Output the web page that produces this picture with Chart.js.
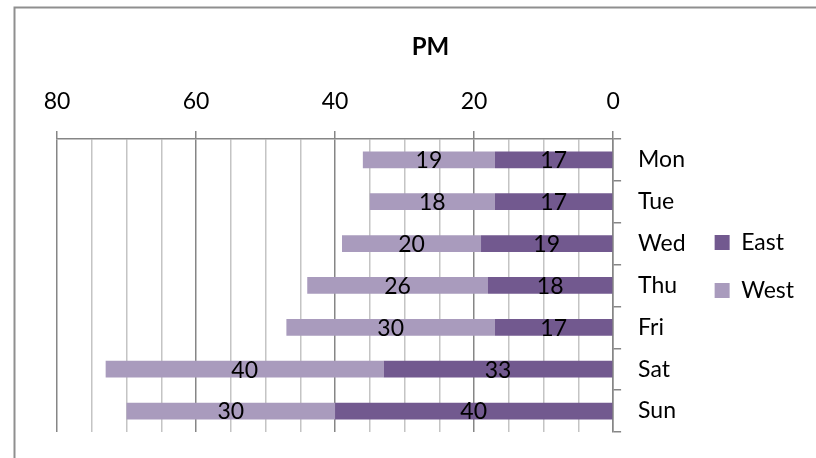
<!DOCTYPE html>
<html>
<head>
<meta charset="utf-8">
<script src="https://cdn.jsdelivr.net/npm/chart.js@4/dist/chart.umd.min.js"></script>
<style>
  html, body { margin: 0; padding: 0; background: #ffffff; }
  #wrap { width: 816px; height: 458px; position: relative; }
</style>
</head>
<body>
<div id="wrap"><canvas id="c" width="816" height="458"></canvas></div>
<script>
const categories = ['Mon', 'Tue', 'Wed', 'Thu', 'Fri', 'Sat', 'Sun'];
const eastValues = [17, 17, 19, 18, 17, 33, 40];
const westValues = [19, 18, 20, 26, 30, 40, 30];
const xTickLabels = [0, 20, 40, 60, 80];
const chartTitle = 'PM';

const FONT = 'Lato, "Open Sans", sans-serif';
const AXIS_GRAY = '#868686';
const MINOR_GRAY = '#c4c4c4';

const frame = {
  id: 'frame',
  beforeDraw(chart) {
    const ctx = chart.ctx;
    ctx.save();
    ctx.fillStyle = '#ffffff';
    ctx.fillRect(0, 0, chart.width, chart.height);
    ctx.strokeStyle = '#8f8f8f';
    ctx.lineWidth = 2;
    ctx.strokeRect(14.5, 7.5, chart.width + 20, chart.height + 20);
    ctx.restore();
  }
};

const valueLabels = {
  id: 'valueLabels',
  afterDatasetsDraw(chart) {
    const ctx = chart.ctx;
    ctx.save();
    ctx.font = '23px ' + FONT;
    ctx.fillStyle = '#000000';
    ctx.textAlign = 'center';
    ctx.textBaseline = 'middle';
    chart.data.datasets.forEach((ds, di) => {
      const meta = chart.getDatasetMeta(di);
      meta.data.forEach((el, i) => {
        const p = el.getProps(['x', 'y', 'base'], true);
        ctx.fillText(String(ds.data[i]), (p.x + p.base) / 2, p.y + 1);
      });
    });
    ctx.restore();
  }
};

new Chart(document.getElementById('c'), {
  type: 'bar',
  data: {
    labels: categories,
    datasets: [
      { label: 'East', data: eastValues, backgroundColor: '#72598F', borderWidth: 0 },
      { label: 'West', data: westValues, backgroundColor: '#A99BBD', borderWidth: 0 }
    ]
  },
  options: {
    indexAxis: 'y',
    responsive: false,
    animation: false,
    devicePixelRatio: 1,
    categoryPercentage: 1,
    barPercentage: 0.4,
    layout: { padding: { left: 57, right: 12, top: 0, bottom: 26 } },
    plugins: {
      tooltip: { enabled: false },
      title: {
        display: true,
        text: chartTitle,
        color: '#000000',
        font: { family: FONT, size: 24, weight: 'bold' },
        padding: { top: 33, bottom: 10.5 }
      },
      legend: {
        display: true,
        position: 'right',
        align: 'start',
        fullSize: false,
        title: { display: true, text: '', font: { size: 10 }, padding: { top: 55, bottom: 0 } },
        labels: {
          boxWidth: 15,
          boxHeight: 15,
          padding: 25,
          color: '#000000',
          font: { family: FONT, size: 23 }
        }
      }
    },
    scales: {
      x: {
        position: 'top',
        reverse: true,
        stacked: true,
        min: 0,
        max: 80,
        ticks: {
          stepSize: 5,
          autoSkip: false,
          maxRotation: 0,
          padding: 15.5,
          color: '#000000',
          font: { family: FONT, size: 23 },
          callback: (v) => (xTickLabels.includes(v) ? String(v) : '')
        },
        grid: {
          color: (c) => (c.tick && c.tick.value % 20 === 0 ? AXIS_GRAY : MINOR_GRAY),
          tickColor: (c) => (c.tick && c.tick.value % 20 === 0 ? AXIS_GRAY : 'rgba(0,0,0,0)'),
          tickLength: 8,
          lineWidth: 1.5
        },
        border: { color: AXIS_GRAY, width: 1.5 }
      },
      y: {
        position: 'right',
        stacked: true,
        afterFit: (scale) => { scale.width -= 13; },
        ticks: {
          padding: 17,
          color: '#000000',
          font: { family: FONT, size: 23, lineHeight: 0.75 }
        },
        grid: {
          drawOnChartArea: false,
          offset: true,
          color: AXIS_GRAY,
          tickLength: 8,
          lineWidth: 1.5
        },
        border: { color: AXIS_GRAY, width: 1.5 }
      }
    }
  },
  plugins: [frame, valueLabels]
});
</script>
</body>
</html>
